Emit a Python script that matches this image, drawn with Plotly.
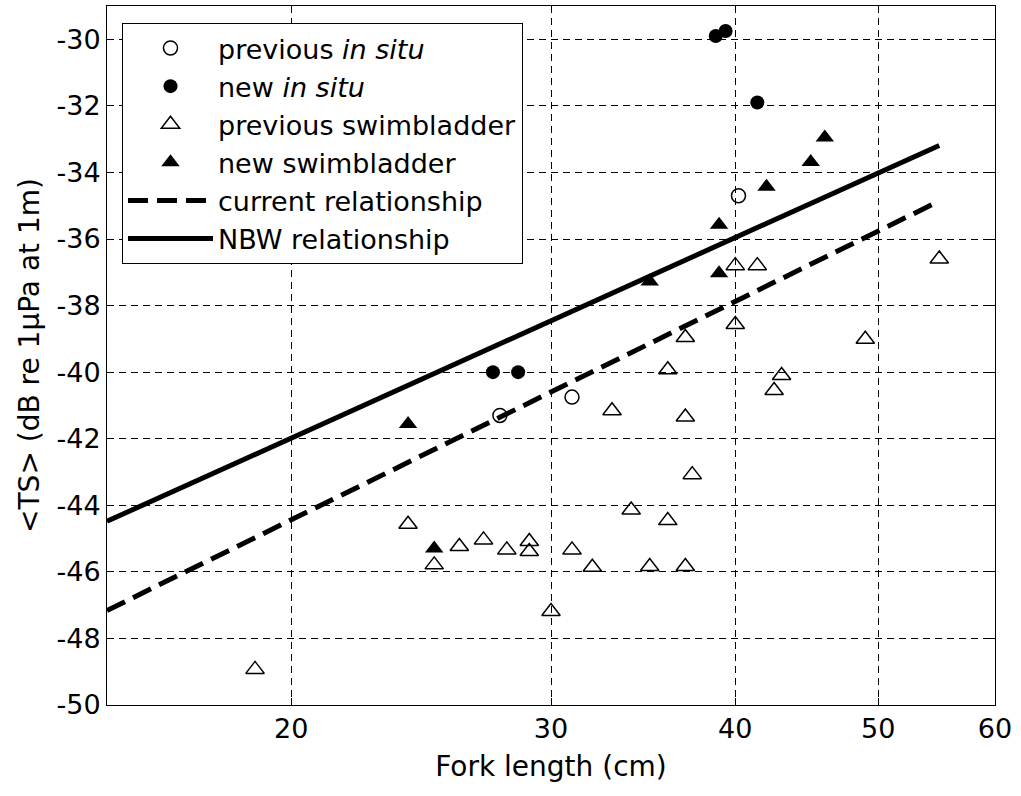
import math
import plotly.graph_objects as go

# ---- data ----
prev_insitu_L = [27.7, 31.0, 40.2]
prev_insitu_TS = [-41.3, -40.75, -34.7]

new_insitu_L = [27.4, 28.5, 38.8, 39.4, 41.4]
new_insitu_TS = [-40.0, -40.0, -29.9, -29.75, -31.9]

prev_sb_L = [18.9, 24, 25, 26, 27, 28, 29, 29, 30, 31, 32, 33, 34, 35, 36, 36,
             37, 37, 37, 37.4, 40, 41.4, 40, 42.5, 43, 49, 55]
prev_sb_TS = [-48.93, -44.57, -45.79, -45.24, -45.04, -45.34, -45.09, -45.39,
              -47.19, -45.34, -45.86, -41.16, -44.14, -45.84, -44.46, -39.93,
              -45.84, -41.35, -38.96, -43.08, -36.8, -36.8, -38.57, -40.55,
              -40.1, -39.01, -36.6]

new_sb_L = [24, 25, 35, 39, 39, 42, 45, 46]
new_sb_TS = [-41.56, -45.30, -37.28, -35.57, -37.03, -34.43, -33.69, -32.95]

rel_L = [15, 55]
current_TS = [-47.16, -34.86]
nbw_TS = [-44.48, -33.19]

x_ticks = [20, 30, 40, 50, 60]
x_ticklabels = ["20", "30", "40", "50", "60"]
y_ticks = [-50, -48, -46, -44, -42, -40, -38, -36, -34, -32, -30]
y_ticklabels = [str(v) for v in y_ticks]

FONT = "DejaVu Sans"

fig = go.Figure()

fig.add_trace(go.Scatter(
    x=prev_insitu_L, y=prev_insitu_TS, mode="markers",
    name="previous <i>in situ</i>",
    marker=dict(symbol="circle-open", size=14, color="black",
                line=dict(width=1.5, color="black"))))
fig.add_trace(go.Scatter(
    x=new_insitu_L, y=new_insitu_TS, mode="markers",
    name="new <i>in situ</i>",
    marker=dict(symbol="circle", size=14, color="black")))
fig.add_trace(go.Scatter(
    x=prev_sb_L, y=prev_sb_TS, mode="markers",
    name="previous swimbladder",
    marker=dict(symbol="triangle-up-open", size=16, color="black",
                line=dict(width=1.5, color="black"))))
fig.add_trace(go.Scatter(
    x=new_sb_L, y=new_sb_TS, mode="markers",
    name="new swimbladder",
    marker=dict(symbol="triangle-up", size=16, color="black")))
fig.add_trace(go.Scatter(
    x=rel_L, y=current_TS, mode="lines",
    name="current relationship",
    line=dict(color="black", width=5, dash="20px,9px")))
fig.add_trace(go.Scatter(
    x=rel_L, y=nbw_TS, mode="lines",
    name="NBW relationship",
    line=dict(color="black", width=5)))

fig.update_layout(
    width=1021, height=796,
    margin=dict(l=107, r=26, t=6, b=91, pad=0),
    paper_bgcolor="white", plot_bgcolor="white",
    font=dict(family=FONT, color="black", size=26),
    showlegend=True,
    legend=dict(
        x=0.0169, y=0.9757, xanchor="left", yanchor="top",
        bgcolor="white", bordercolor="black", borderwidth=1,
        font=dict(family=FONT, size=27, color="black"),
        itemwidth=85, tracegroupgap=0,
    ),
    xaxis=dict(
        type="log", range=[math.log10(15), math.log10(60)],
        tickvals=x_ticks, ticktext=x_ticklabels,
        ticks="inside", ticklen=7, tickcolor="black", tickwidth=1,
        showline=True, linecolor="black", linewidth=1, mirror="ticks",
        showgrid=True, gridcolor="black", gridwidth=1, griddash="7px,5px",
        zeroline=False,
        tickfont=dict(family=FONT, size=27, color="black"),
        title=dict(text="Fork length (cm)", standoff=12,
                   font=dict(family=FONT, size=28, color="black")),
    ),
    yaxis=dict(
        range=[-50, -29],
        tickvals=y_ticks, ticktext=y_ticklabels,
        ticks="inside", ticklen=7, tickcolor="black", tickwidth=1,
        showline=True, linecolor="black", linewidth=1, mirror="ticks",
        showgrid=True, gridcolor="black", gridwidth=1, griddash="7px,5px",
        zeroline=False,
        tickfont=dict(family=FONT, size=27, color="black"),
        title=dict(text="&lt;TS&gt; (dB re 1µPa at 1m)", standoff=8,
                   font=dict(family=FONT, size=28, color="black")),
    ),
)

fig.write_html("out.html")
